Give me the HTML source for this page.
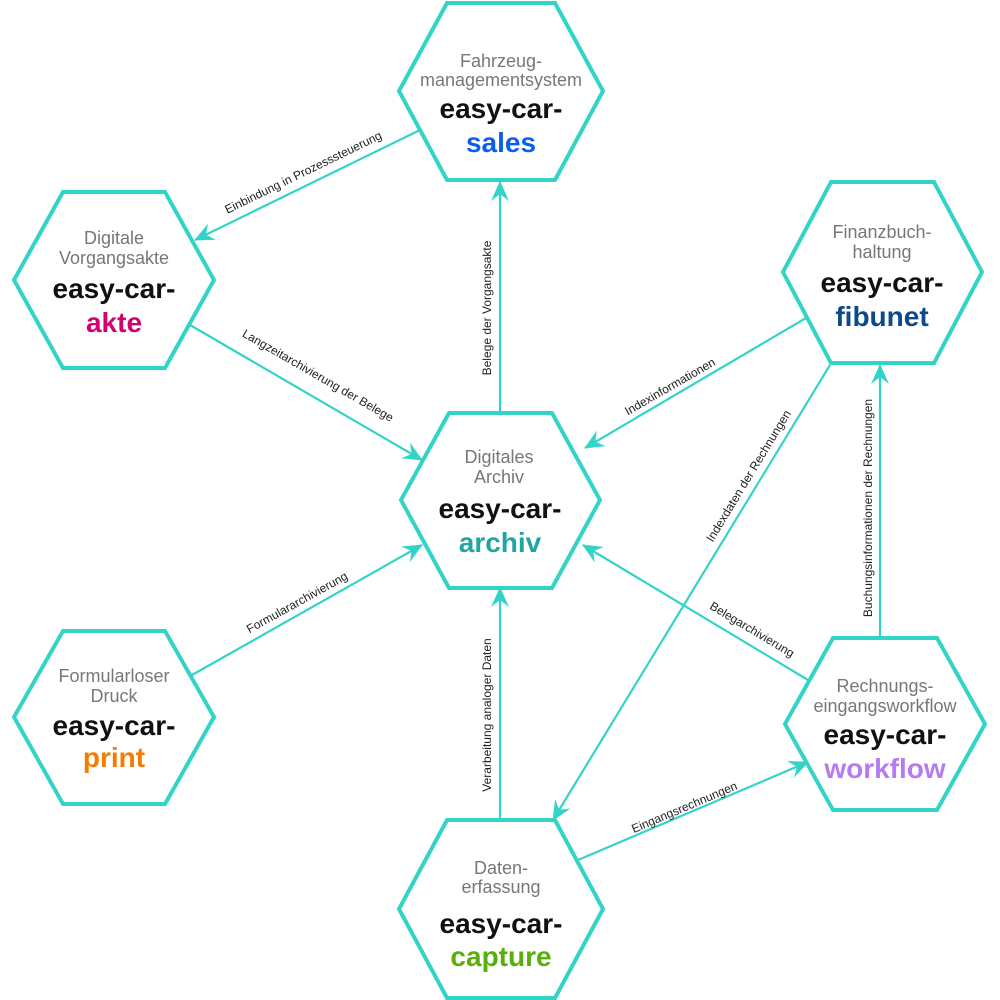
<!DOCTYPE html>
<html><head><meta charset="utf-8"><style>
html,body{margin:0;padding:0;background:#fff}
svg{display:block}
.sub{font-family:"Liberation Sans",sans-serif;font-size:18px;fill:#777;text-anchor:middle}
.t{font-family:"Liberation Sans",sans-serif;font-size:28px;font-weight:bold;fill:#111;text-anchor:middle}
.l{font-family:"Liberation Sans",sans-serif;font-size:12px;fill:#222;text-anchor:middle}
.ln{stroke:#33d4c8;stroke-width:2.2;fill:none}
.hx{stroke:#33d4c8;stroke-width:4;fill:#fff}
</style></head><body>
<svg width="1000" height="1000" viewBox="0 0 1000 1000" xmlns="http://www.w3.org/2000/svg">
<defs><marker id="a" viewBox="0 0 20 18" refX="19" refY="9" markerWidth="20" markerHeight="18" markerUnits="userSpaceOnUse" orient="auto"><path d="M0,0 L20,9 L0,18 L7,9 z" fill="#33d4c8"/></marker></defs>
<g class="ln">
<line x1="420" y1="130" x2="195" y2="240" marker-end="url(#a)"/>
<line x1="500" y1="412" x2="500" y2="182" marker-end="url(#a)"/>
<line x1="190" y1="325" x2="422" y2="460" marker-end="url(#a)"/>
<line x1="806" y1="318" x2="585" y2="448" marker-end="url(#a)"/>
<line x1="830" y1="365" x2="553" y2="820" marker-end="url(#a)"/>
<line x1="880" y1="638" x2="880" y2="365" marker-end="url(#a)"/>
<line x1="192" y1="675" x2="422" y2="545" marker-end="url(#a)"/>
<line x1="500" y1="820" x2="500" y2="588" marker-end="url(#a)"/>
<line x1="808" y1="680" x2="583" y2="545" marker-end="url(#a)"/>
<line x1="578" y1="860" x2="808" y2="762" marker-end="url(#a)"/>
</g>
<g class="l">
<text transform="translate(305,176) rotate(-26)">Einbindung in Prozesssteuerung</text>
<text transform="translate(491,308) rotate(-90)">Belege der Vorgangsakte</text>
<text transform="translate(316,379) rotate(30)">Langzeitarchivierung der Belege</text>
<text transform="translate(672,390) rotate(-30)">Indexinformationen</text>
<text transform="translate(752,478) rotate(-58.7)">Indexdaten der Rechnungen</text>
<text transform="translate(872,508) rotate(-90)">Buchungsinformationen der Rechnungen</text>
<text transform="translate(299,606) rotate(-29)">Formulararchivierung</text>
<text transform="translate(491,715) rotate(-90)">Verarbeitung analoger Daten</text>
<text transform="translate(750,633) rotate(31)">Belegarchivierung</text>
<text transform="translate(686,811) rotate(-23)">Eingangsrechnungen</text>
</g>
<polygon class="hx" points="447,3 555,3 603,91 555,180 447,180 399,91"/>
<polygon class="hx" points="63,192 165,192 214,280 165,368 63,368 14,280"/>
<polygon class="hx" points="831,182 934,182 982,272 934,363 831,363 783,272"/>
<polygon class="hx" points="449,413 552,413 600,500 552,588 449,588 401,500"/>
<polygon class="hx" points="63,631 165,631 214,717 165,804 63,804 14,717"/>
<polygon class="hx" points="833,638 937,638 985,724 937,810 833,810 785,724"/>
<polygon class="hx" points="447,820 555,820 603,909 555,998 447,998 399,909"/>
<text class="sub" x="501" y="67">Fahrzeug-</text><text class="sub" x="501" y="86">managementsystem</text>
<text class="t" x="501" y="118">easy-car-</text><text class="t" x="501" y="152" style="fill:#0a5ef0">sales</text>
<text class="sub" x="114" y="244">Digitale</text><text class="sub" x="114" y="264">Vorgangsakte</text>
<text class="t" x="114" y="298">easy-car-</text><text class="t" x="114" y="332" style="fill:#d4006e">akte</text>
<text class="sub" x="882" y="238">Finanzbuch-</text><text class="sub" x="882" y="258">haltung</text>
<text class="t" x="882" y="292">easy-car-</text><text class="t" x="882" y="326" style="fill:#0c4a8a">fibunet</text>
<text class="sub" x="499" y="463">Digitales</text><text class="sub" x="499" y="483">Archiv</text>
<text class="t" x="500" y="518">easy-car-</text><text class="t" x="500" y="552" style="fill:#20a6a0">archiv</text>
<text class="sub" x="114" y="682">Formularloser</text><text class="sub" x="114" y="702">Druck</text>
<text class="t" x="114" y="735">easy-car-</text><text class="t" x="114" y="767" style="fill:#f57c00">print</text>
<text class="sub" x="885" y="692">Rechnungs-</text><text class="sub" x="885" y="712">eingangsworkflow</text>
<text class="t" x="885" y="744">easy-car-</text><text class="t" x="885" y="778" style="fill:#b57cf2">workflow</text>
<text class="sub" x="501" y="874">Daten-</text><text class="sub" x="501" y="893">erfassung</text>
<text class="t" x="501" y="933">easy-car-</text><text class="t" x="501" y="966" style="fill:#5aae0a">capture</text>
</svg>
</body></html>
